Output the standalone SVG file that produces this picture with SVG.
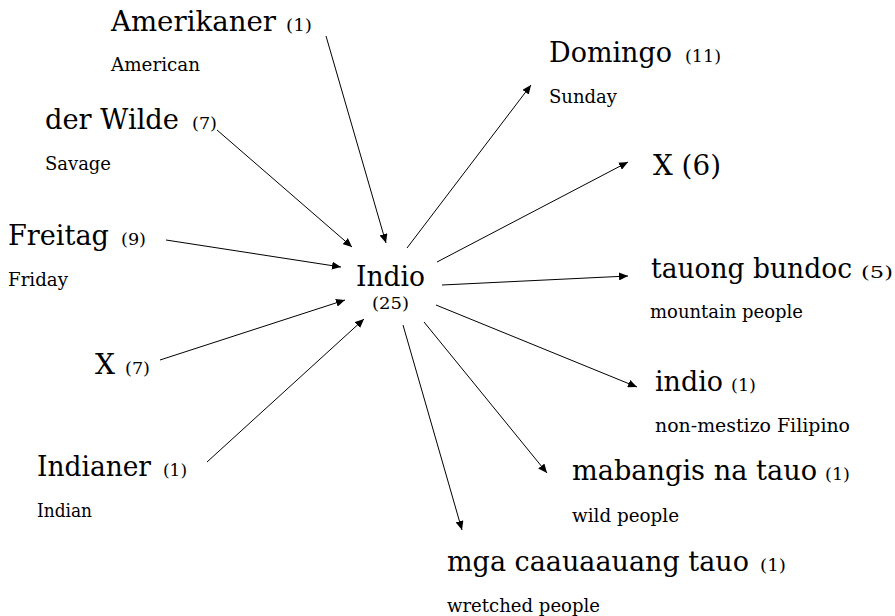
<svg xmlns="http://www.w3.org/2000/svg" width="895" height="616" viewBox="0 0 895 616">
<style>
text{font-family:"DejaVu Serif","Liberation Serif",serif;fill:#000}
.big{font-size:28px}
.cnt{font-size:17px}
.sub{font-size:18.5px}
.edge{stroke:#000;stroke-width:1;fill:none;marker-end:url(#ah)}
</style>
<defs>
<marker id="ah" markerUnits="userSpaceOnUse" markerWidth="10" markerHeight="8" refX="9" refY="4" orient="auto">
<path d="M0,0 L9,4 L0,8 Z" fill="#000"/>
</marker>
</defs>
<rect width="895" height="616" fill="#fff"/>
<g id="connectors">
<line class="edge" x1="326" y1="36" x2="386" y2="243"/>
<line class="edge" x1="217" y1="130" x2="352" y2="247"/>
<line class="edge" x1="166" y1="240" x2="341" y2="267"/>
<line class="edge" x1="160" y1="360" x2="345" y2="300"/>
<line class="edge" x1="207" y1="462" x2="364" y2="319"/>
<line class="edge" x1="407" y1="248" x2="531" y2="85"/>
<line class="edge" x1="437" y1="262" x2="628" y2="162"/>
<line class="edge" x1="442" y1="285" x2="628" y2="276"/>
<line class="edge" x1="436" y1="305" x2="637" y2="387"/>
<line class="edge" x1="424" y1="322" x2="547" y2="473"/>
<line class="edge" x1="403" y1="325" x2="462" y2="530"/>
</g>
<g id="node-amerikaner">
<text class="big" x="111" y="31" textLength="165" lengthAdjust="spacingAndGlyphs">Amerikaner</text>
<text class="cnt" x="286" y="31" textLength="26" lengthAdjust="spacingAndGlyphs">(1)</text>
<text class="sub" x="111" y="71" textLength="89" lengthAdjust="spacingAndGlyphs">American</text>
</g>
<g id="node-derwilde">
<text class="big" x="45" y="129" textLength="134" lengthAdjust="spacingAndGlyphs">der Wilde</text>
<text class="cnt" x="192" y="129" textLength="25" lengthAdjust="spacingAndGlyphs">(7)</text>
<text class="sub" x="45" y="170" textLength="66" lengthAdjust="spacingAndGlyphs">Savage</text>
</g>
<g id="node-freitag">
<text class="big" x="8" y="245" textLength="101" lengthAdjust="spacingAndGlyphs">Freitag</text>
<text class="cnt" x="121" y="245" textLength="25" lengthAdjust="spacingAndGlyphs">(9)</text>
<text class="sub" x="8" y="286" textLength="60" lengthAdjust="spacingAndGlyphs">Friday</text>
</g>
<g id="node-x7">
<text class="big" x="95" y="374" textLength="20" lengthAdjust="spacingAndGlyphs">X</text>
<text class="cnt" x="125" y="374" textLength="25" lengthAdjust="spacingAndGlyphs">(7)</text>
</g>
<g id="node-indianer">
<text class="big" x="37" y="476" textLength="114" lengthAdjust="spacingAndGlyphs">Indianer</text>
<text class="cnt" x="163" y="476" textLength="24" lengthAdjust="spacingAndGlyphs">(1)</text>
<text class="sub" x="37" y="517" textLength="55" lengthAdjust="spacingAndGlyphs">Indian</text>
</g>
<g id="node-indio-center">
<text class="big" x="356" y="286" textLength="69" lengthAdjust="spacingAndGlyphs">Indio</text>
<text class="cnt" x="372" y="309" textLength="37" lengthAdjust="spacingAndGlyphs">(25)</text>
</g>
<g id="node-domingo">
<text class="big" x="549" y="62" textLength="123" lengthAdjust="spacingAndGlyphs">Domingo</text>
<text class="cnt" x="685" y="62" textLength="36" lengthAdjust="spacingAndGlyphs">(11)</text>
<text class="sub" x="549" y="103" textLength="68" lengthAdjust="spacingAndGlyphs">Sunday</text>
</g>
<g id="node-x6">
<text class="big" x="653" y="175" textLength="68" lengthAdjust="spacingAndGlyphs">X (6)</text>
</g>
<g id="node-tauongbundoc">
<text class="big" x="651" y="278" textLength="201" lengthAdjust="spacingAndGlyphs">tauong bundoc</text>
<text class="cnt" x="861" y="278" textLength="32" lengthAdjust="spacingAndGlyphs">(5)</text>
<text class="sub" x="650" y="318" textLength="153" lengthAdjust="spacingAndGlyphs">mountain people</text>
</g>
<g id="node-indio">
<text class="big" x="655" y="391" textLength="68" lengthAdjust="spacingAndGlyphs">indio</text>
<text class="cnt" x="731" y="391" textLength="25" lengthAdjust="spacingAndGlyphs">(1)</text>
<text class="sub" x="655" y="432" textLength="195" lengthAdjust="spacingAndGlyphs">non-mestizo Filipino</text>
</g>
<g id="node-mabangis">
<text class="big" x="572" y="480" textLength="245" lengthAdjust="spacingAndGlyphs">mabangis na tauo</text>
<text class="cnt" x="825" y="480" textLength="25" lengthAdjust="spacingAndGlyphs">(1)</text>
<text class="sub" x="572" y="522" textLength="107" lengthAdjust="spacingAndGlyphs">wild people</text>
</g>
<g id="node-mga">
<text class="big" x="447" y="571" textLength="302" lengthAdjust="spacingAndGlyphs">mga caauaauang tauo</text>
<text class="cnt" x="760" y="571" textLength="26" lengthAdjust="spacingAndGlyphs">(1)</text>
<text class="sub" x="447" y="612" textLength="153" lengthAdjust="spacingAndGlyphs">wretched people</text>
</g>
</svg>
